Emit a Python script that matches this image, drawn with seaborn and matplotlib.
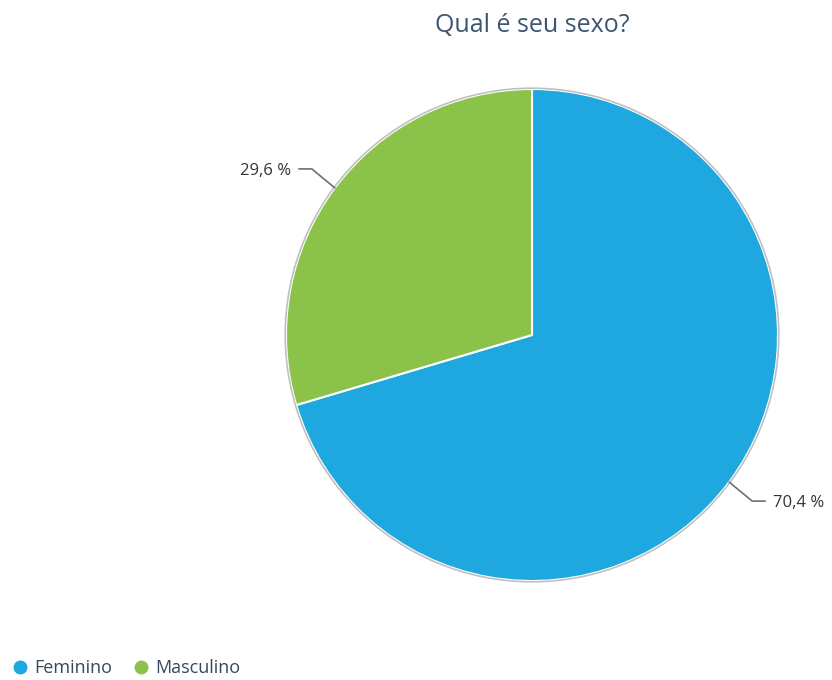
import numpy as np
import matplotlib
matplotlib.use("Agg")
import matplotlib.pyplot as plt
import seaborn as sns
from matplotlib.lines import Line2D

categories = ["Feminino", "Masculino"]
values = [70.4, 29.6]
value_labels = ["70,4 %", "29,6 %"]
colors = ["#1fa8df", "#8bc34a"]

sns.set_theme(style="white")
plt.rcParams["font.family"] = ["Open Sans", "DejaVu Sans"]

W, H = 832, 680
fig = plt.figure(figsize=(W / 100, H / 100), dpi=100)
ax = fig.add_axes([0, 0, 1, 1])

cx, cy, r = 532, H - 335, 246
wedges, _ = ax.pie(values, colors=colors, startangle=90, counterclock=False,
                   center=(cx, cy), radius=r, frame=True,
                   wedgeprops=dict(edgecolor="white", linewidth=1.5))
ax.set_xlim(0, W)
ax.set_ylim(0, H)
ax.set_aspect("equal")
ax.axis("off")
ax.add_patch(plt.Circle((cx, cy), r + 0.8, fill=False, edgecolor="#c0c0c0", linewidth=1.2))

# leader lines with elbow, then value text
for w, lab in zip(wedges, value_labels):
    ang = np.deg2rad((w.theta1 + w.theta2) / 2)
    x0, y0 = cx + r * np.cos(ang), cy + r * np.sin(ang)
    side = 1 if np.cos(ang) > 0 else -1
    x1, y1 = x0 + side * 23, y0 + 19 * np.sign(np.sin(ang))
    x2 = x1 + side * 13
    ax.plot([x0, x1, x2], [y0, y1, y1], color="#707070", linewidth=1.2,
            solid_capstyle="round")
    ax.text(x2 + side * 8, y1 - 2, lab, ha="left" if side > 0 else "right",
            va="center", fontsize=12, color="#333333")

fig.text(cx / W, 1 - 26 / H, "Qual é seu sexo?", ha="center", va="center",
         fontsize=18, color="#3b5670")

handles = [Line2D([], [], marker="o", linestyle="", markersize=9,
                  markerfacecolor=c, markeredgecolor=c) for c in colors]
fig.legend(handles, categories, loc="center left", bbox_to_anchor=(0.0, 1 - 668 / H),
           ncol=2, frameon=False, fontsize=13, labelcolor="#34495e",
           handlelength=1.0, handletextpad=0.3, columnspacing=1.1,
           borderaxespad=0, borderpad=0.6)

fig.savefig("out.png", dpi=100)
